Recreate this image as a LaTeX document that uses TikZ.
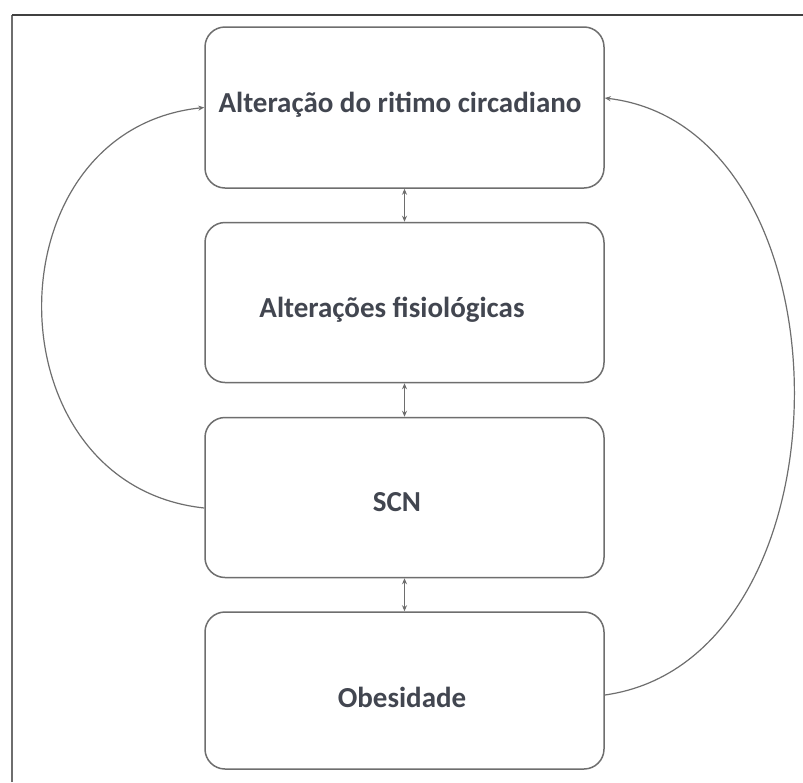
\documentclass[tikz,border=0pt]{standalone}
\usepackage{fontspec}
\setmainfont{Carlito}
\usetikzlibrary{arrows.meta}
\definecolor{linegrey}{RGB}{110,110,110}
\definecolor{txtgrey}{RGB}{66,70,80}
\tikzset{
  box/.style={draw=linegrey, line width=1.5pt, rounded corners=20pt,
              minimum width=399pt, inner sep=0pt},
  lbl/.style={font=\bfseries\fontsize{29}{33}\selectfont, text=txtgrey, inner sep=0pt},
  conn/.style={draw=linegrey, line width=1.2pt},
  tip/.style={-{Stealth[length=6pt,width=5pt]}},
  dtip/.style={{Stealth[length=6pt,width=5pt]}-{Stealth[length=6pt,width=5pt]}}
}
\begin{document}
\begin{tikzpicture}[x=1pt,y=-1pt]
\useasboundingbox (0,0) rectangle (803,782);
\fill[white] (0,0) rectangle (803,782);
% outer frame (cropped)
\coordinate (fbl) at (12,782);
\coordinate (ftl) at (12,15);
\coordinate (ftr) at (803,15);
\draw[draw=linegrey, line width=1.6pt] (fbl) -- (ftl);
\draw[draw=black!75, line width=2.2pt] (ftl) -- (ftr);
% boxes
\node[box, minimum height=161pt] (b1) at (404.5,107.5) {};
\node[box, minimum height=160pt] (b2) at (404.5,302.5) {};
\node[box, minimum height=160pt] (b3) at (404.5,497.5) {};
\node[box, minimum height=157pt] (b4) at (404.5,690.5) {};
% labels
\node[lbl] (t1) at (400,105) {Alteração do ritimo circadiano};
\node[lbl] (t2) at (392,310) {Alterações fisiológicas};
\node[lbl] (t3) at (397,502) {SCN};
\node[lbl] (t4) at (402,697) {Obesidade};
% vertical double arrows
\draw[conn, dtip] (b1.south) -- (b2.north);
\draw[conn, dtip] (b2.south) -- (b3.north);
\draw[conn, dtip] (b3.south) -- (b4.north);
% feedback curves
\draw[conn, tip] ([yshift=-10.5pt]b3.west) .. controls (-12,485) and (-12,130) .. (b1.west);
\draw[conn, tip] ([yshift=-4.5pt]b4.east) .. controls (857,660) and (857,128) .. ([yshift=9.5pt]b1.east);
\end{tikzpicture}
\end{document}
